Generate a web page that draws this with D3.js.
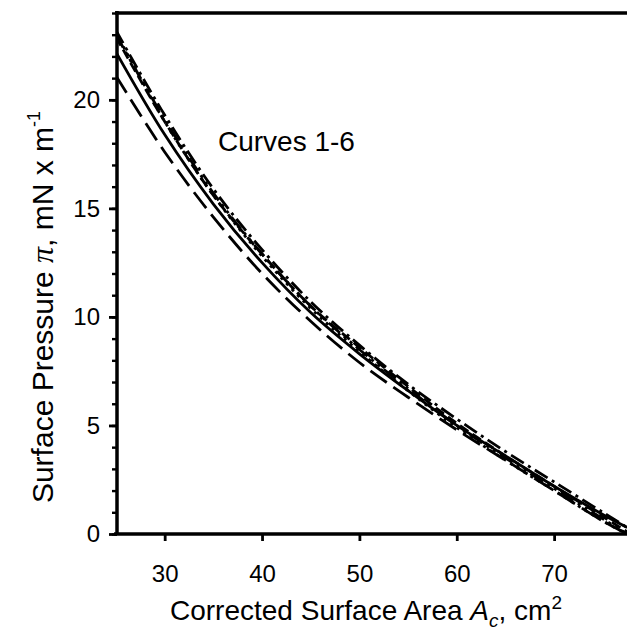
<!DOCTYPE html>
<html><head><meta charset="utf-8">
<script src="https://cdn.jsdelivr.net/npm/d3@7"></script>
<style>body{margin:0;background:#fff}svg{display:block}text{font-family:"Liberation Sans",Arial,sans-serif}</style>
</head><body><svg id="c" width="627" height="634"></svg>
<script>
const areas = [25, 30, 35, 40, 45, 50, 55, 60, 65, 70, 75, 77.5];
const curve1 = [22.2, 18.4, 15.2, 12.5, 10.2, 8.3, 6.6, 5.0, 3.6, 2.2, 0.9, 0.3];
const curve2 = [21.1, 17.6, 14.6, 12.0, 9.8, 7.9, 6.3, 4.8, 3.4, 2.0, 0.6, 0.0];
const curve3 = [23.1, 19.0, 15.6, 12.8, 10.4, 8.4, 6.6, 4.9, 3.4, 2.0, 0.6, 0.0];
const curve4 = [23.2, 19.3, 15.9, 13.1, 10.7, 8.7, 6.9, 5.3, 3.8, 2.4, 1.0, 0.3];
const curve5 = [23.0, 19.1, 15.7, 12.9, 10.5, 8.5, 6.7, 5.0, 3.5, 2.1, 0.7, 0.0];
const curve6 = [22.9, 19.0, 15.6, 12.9, 10.5, 8.6, 6.8, 5.1, 3.6, 2.2, 0.8, 0.1];
const seriesNames = ["Curve 1","Curve 2","Curve 3","Curve 4","Curve 5","Curve 6"];
const seriesValues = [curve1, curve2, curve3, curve4, curve5, curve6];
const dashes = [null, "20,8", "3,5", "15,5,3,5", "15,5,3,5,3,5", "10,5"];
const xTicks = [30, 40, 50, 60, 70];
const yTicks = [0, 5, 10, 15, 20];

const svg = d3.select("#c");
const x = d3.scaleLinear().domain([25, 78]).range([116, 632]);
const y = d3.scaleLinear().domain([0, 24]).range([534, 13]);

svg.append("defs").append("clipPath").attr("id","clip").append("rect")
  .attr("x",116).attr("y",13).attr("width",520).attr("height",521);

const line = d3.line().x(d=>x(d[0])).y(d=>y(d[1])).curve(d3.curveCatmullRom.alpha(0.5));
const g = svg.append("g").attr("clip-path","url(#clip)");
seriesValues.forEach((vals,i)=>{
  g.append("path").datum(areas.map((a,j)=>[a,vals[j]]))
    .attr("d",line).attr("fill","none").attr("stroke","#000")
    .attr("stroke-width",2.8).attr("stroke-dasharray",dashes[i]);
});

const font = "Liberation Sans, Arial, sans-serif";
const xAxis = d3.axisBottom(x).tickValues(xTicks).tickSize(7).tickSizeOuter(0).tickPadding(24);
const gx = svg.append("g").attr("transform","translate(0,534)").call(xAxis);
gx.select(".domain").attr("stroke-width",3.5).attr("d","M114,0H632");
gx.selectAll(".tick line").attr("stroke-width",2.8);
gx.selectAll("text").attr("font-size",24).attr("fill","#000").attr("font-family",font);

const yMinor = d3.axisLeft(y).tickValues(d3.range(0,25,1)).tickSize(5).tickFormat("").tickSizeOuter(0);
const gym = svg.append("g").attr("transform","translate(117,0)").call(yMinor);
gym.select(".domain").remove();
gym.selectAll(".tick line").attr("stroke-width",2.4);

const yAxis = d3.axisLeft(y).tickValues(yTicks).tickSize(8).tickSizeOuter(0).tickPadding(9);
const gy = svg.append("g").attr("transform","translate(117,0)").call(yAxis);
gy.select(".domain").attr("stroke-width",3.5).attr("d","M0,535V11");
gy.selectAll(".tick line").attr("stroke-width",2.8);
gy.selectAll("text").attr("font-size",24).attr("fill","#000").attr("font-family",font);

svg.append("line").attr("x1",115).attr("x2",627).attr("y1",y(24)).attr("y2",y(24))
  .attr("stroke","#000").attr("stroke-width",3.5);

svg.append("text").attr("x",218).attr("y",151).attr("font-size",28).text("Curves 1-6");

const xl = svg.append("text").attr("x",366).attr("y",620).attr("text-anchor","middle").attr("font-size",28);
xl.append("tspan").text("Corrected Surface Area ");
xl.append("tspan").attr("font-style","italic").text("A");
xl.append("tspan").attr("font-style","italic").attr("font-size",19).attr("dy",7).text("c");
xl.append("tspan").attr("dy",-7).text(", cm");
xl.append("tspan").attr("font-size",19).attr("dy",-11).text("2");

const yl = svg.append("text").attr("transform","translate(53,307) rotate(-90)").attr("text-anchor","middle").attr("font-size",30);
yl.append("tspan").text("Surface Pressure ");
yl.append("tspan").attr("font-style","italic").attr("font-family","Liberation Serif, Times New Roman, serif").attr("font-size",32).text("π");
yl.append("tspan").text(", mN x m");
yl.append("tspan").attr("font-size",18).attr("dy",-13).text("-1");
</script></body></html>
